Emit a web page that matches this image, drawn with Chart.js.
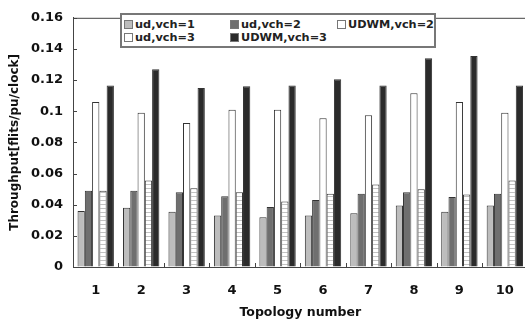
<!DOCTYPE html>
<html>
<head>
<meta charset="utf-8">
<script src="https://cdn.jsdelivr.net/npm/chart.js@4/dist/chart.umd.min.js"></script>
<style>
  html, body { margin: 0; padding: 0; background: #fff; overflow: hidden; }
  #wrap { position: relative; width: 530px; height: 325px; }
  #legend {
    position: absolute; left: 120px; top: 13px; width: 312px; height: 31px;
    border: 2px solid #777; background: #fff;
    font: bold 11.3px "DejaVu Sans", sans-serif; color: #222;
  }
  .item { position: absolute; display: flex; align-items: center; height: 14px; }
  .sw { width: 7px; height: 7px; border: 1px solid #777; margin-right: 2px; }
</style>
</head>
<body>
<div id="wrap">
  <canvas id="chart"></canvas>
  <div id="legend"></div>
</div>
<script>
const topologies = ["1", "2", "3", "4", "5", "6", "7", "8", "9", "10"];
const seriesLabels = ["ud,vch=1", "ud,vch=2", "UDWM,vch=2", "ud,vch=3", "UDWM,vch=3"];
const udVch1 = [0.036, 0.038, 0.0355, 0.033, 0.032, 0.033, 0.0345, 0.0395, 0.0355, 0.0395];
const udVch2 = [0.049, 0.049, 0.048, 0.0455, 0.0385, 0.043, 0.047, 0.048, 0.045, 0.047];
const udwmVch2 = [0.106, 0.099, 0.0925, 0.101, 0.101, 0.0955, 0.0975, 0.1115, 0.106, 0.099];
const udVch3 = [0.049, 0.0555, 0.0505, 0.048, 0.042, 0.047, 0.053, 0.050, 0.0465, 0.0555];
const udwmVch3 = [0.1165, 0.127, 0.115, 0.116, 0.1165, 0.1205, 0.1165, 0.134, 0.1355, 0.1165];
const yTicks = [0, 0.02, 0.04, 0.06, 0.08, 0.1, 0.12, 0.14, 0.16];

function stripePattern() {
  const c = document.createElement("canvas");
  c.width = 8;
  c.height = 4;
  const g = c.getContext("2d");
  g.fillStyle = "#fff";
  g.fillRect(0, 0, 8, 4);
  g.fillStyle = "#c2c2c2";
  g.fillRect(0, 0, 8, 1);
  return g.createPattern(c, "repeat");
}

const fills = ["#bdbdbd", "#6f6f6f", "#ffffff", stripePattern(), "#2b2b2b"];
const swatches = ["#bdbdbd", "#6f6f6f", "#ffffff", "#ffffff", "#2b2b2b"];
const seriesData = [udVch1, udVch2, udwmVch2, udVch3, udwmVch3];

// legend in a box, 3 columns
const legend = document.querySelector("#legend");
const cols = [2, 108, 215];
seriesLabels.forEach((label, i) => {
  const item = document.createElement("div");
  item.className = "item";
  item.style.left = cols[i % 3] + "px";
  item.style.top = (i < 3 ? 2 : 15) + "px";
  item.innerHTML = `<span class="sw" style="background:${swatches[i]}"></span>${label}`;
  legend.appendChild(item);
});

const frameTicks = {
  id: "frameTicks",
  afterDraw(chart) {
    const { ctx, chartArea } = chart;
    const x = chart.scales.x;
    const y = chart.scales.y;
    ctx.save();
    ctx.strokeStyle = "#444";
    ctx.lineWidth = 1;
    ctx.beginPath();
    ctx.moveTo(chartArea.left, chartArea.top + 0.5);
    ctx.lineTo(chartArea.right, chartArea.top + 0.5);
    yTicks.forEach((v) => {
      const py = Math.round(y.getPixelForValue(v)) + 0.5;
      ctx.moveTo(chartArea.left, py);
      ctx.lineTo(chartArea.left + 4, py);
    });
    for (let i = 1; i < topologies.length; i++) {
      const px = Math.round((x.getPixelForValue(i - 1) + x.getPixelForValue(i)) / 2) + 0.5;
      ctx.moveTo(px, chartArea.bottom);
      ctx.lineTo(px, chartArea.bottom - 4);
    }
    ctx.stroke();
    ctx.restore();
  },
};

new Chart(document.querySelector("#chart"), {
  type: "bar",
  data: {
    labels: topologies,
    datasets: seriesLabels.map((label, i) => ({
      label,
      data: seriesData[i],
      backgroundColor: fills[i],
      borderColor: "#333",
      borderWidth: 1,
      barPercentage: 1,
      categoryPercentage: 0.8,
    })),
  },
  options: {
    responsive: true,
    maintainAspectRatio: false,
    animation: false,
    layout: { padding: { left: 0, top: 12, right: 2, bottom: 0 } },
    plugins: { legend: { display: false }, tooltip: { enabled: false } },
    scales: {
      x: {
        grid: { display: true, drawOnChartArea: false, drawTicks: false },
        border: { display: true, color: "#444" },
        ticks: { color: "#111", padding: 16, font: { family: "DejaVu Sans", weight: "bold", size: 13 } },
        title: {
          display: true,
          text: "Topology number",
          color: "#111",
          padding: { top: 0, bottom: 5 },
          font: { family: "DejaVu Sans", weight: "bold", size: 12.5 },
        },
        afterFit(scale) { scale.height = 58; },
      },
      y: {
        min: 0,
        max: 0.16,
        afterBuildTicks(scale) { scale.ticks = yTicks.map((v) => ({ value: v })); },
        grid: { display: true, drawOnChartArea: false, drawTicks: false },
        border: { display: true, color: "#444" },
        ticks: {
          color: "#111",
          padding: 10,
          font: { family: "DejaVu Sans", weight: "bold", size: 13 },
          callback: (v) => String(parseFloat(Number(v).toFixed(2))),
        },
        title: {
          display: true,
          text: "Throughput[flits/pu/clock]",
          color: "#111",
          padding: { top: 8, bottom: 0 },
          font: { family: "DejaVu Sans", weight: "bold", size: 12 },
        },
        afterFit(scale) { scale.width = 73; },
      },
    },
  },
  plugins: [frameTicks],
});
</script>
</body>
</html>
